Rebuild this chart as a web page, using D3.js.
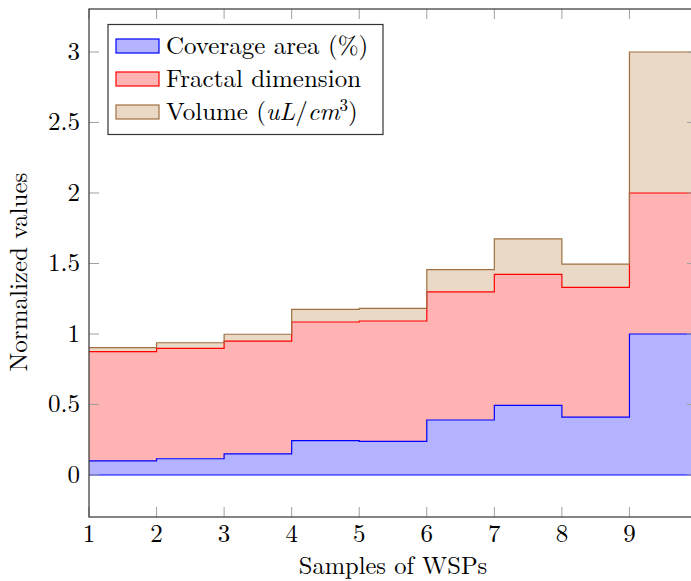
<!DOCTYPE html>
<html><head><meta charset="utf-8">
<script src="https://cdn.jsdelivr.net/npm/d3@7"></script>
<style>body{margin:0;background:#fff;} svg{display:block;}</style>
</head><body>
<svg id="c" width="691" height="581"></svg>
<script>
const samples  = [1, 2, 3, 4, 5, 6, 7, 8, 9, 10];
const coverage = [0.10, 0.115, 0.15, 0.243, 0.238, 0.39, 0.494, 0.41, 1.0, 1.0];
const fractal  = [0.775, 0.783, 0.80, 0.842, 0.854, 0.908, 0.929, 0.921, 1.0, 1.0];
const volume   = [0.028, 0.040, 0.048, 0.090, 0.090, 0.158, 0.251, 0.165, 1.0, 1.0];
const xTicks = [1, 2, 3, 4, 5, 6, 7, 8, 9, 10];
const yTicks = [0, 0.5, 1, 1.5, 2, 2.5, 3];
const seriesNames = ["Coverage area (%)", "Fractal dimension", "Volume"];

const FONT = '"Latin Modern Roman", "CMU Serif", "Liberation Serif", serif';
const svg = d3.select("#c");
const L = 89, R = 697, T = 9, B = 517;
const x = d3.scaleLinear().domain([1, 10]).range([L, R]);
const y = d3.scaleLinear().domain([-0.298, 3.305]).range([B, T]);

const rows = samples.map((s, i) => ({x: s, a: coverage[i], b: fractal[i], c: volume[i]}));
const stack = d3.stack().keys(["a", "b", "c"])(rows);
const fills = ["#b3b3ff", "#ffb3b3", "#ead9c6"];
const strokes = ["#0000ff", "#ff0000", "#a07040"];

svg.append("defs").append("clipPath").attr("id", "clip")
  .append("rect").attr("x", L).attr("y", T).attr("width", R - L).attr("height", B - T);
const g = svg.append("g").attr("clip-path", "url(#clip)");

const area = d3.area().curve(d3.curveStepAfter)
  .x(d => x(d.data.x)).y0(d => y(d[0])).y1(d => y(d[1]));
const line = d3.line().curve(d3.curveStepAfter)
  .x(d => x(d.data.x)).y(d => y(d[1]));

stack.forEach((s, i) => {
  g.append("path").attr("d", area(s)).attr("fill", fills[i]).attr("stroke", "none");
});
g.append("path").attr("d", d3.line().x(d => x(d.x)).y(() => y(0))(rows))
  .attr("fill", "none").attr("stroke", strokes[0]).attr("stroke-width", 1.2);
stack.forEach((s, i) => {
  g.append("path").attr("d", line(s)).attr("fill", "none")
   .attr("stroke", strokes[i]).attr("stroke-width", 1.2);
});

// ticks
const tickCol = "#a0a0a0", tl = 10;
const ticks = svg.append("g").attr("stroke", tickCol).attr("stroke-width", 1);
xTicks.forEach(t => {
  ticks.append("line").attr("x1", x(t)).attr("x2", x(t)).attr("y1", B).attr("y2", B - tl);
  ticks.append("line").attr("x1", x(t)).attr("x2", x(t)).attr("y1", T).attr("y2", T + tl);
});
yTicks.forEach(t => {
  ticks.append("line").attr("x1", L).attr("x2", L + tl).attr("y1", y(t)).attr("y2", y(t));
  ticks.append("line").attr("x1", R).attr("x2", R - tl).attr("y1", y(t)).attr("y2", y(t));
});
svg.append("rect").attr("x", L).attr("y", T).attr("width", R - L).attr("height", B - T)
  .attr("fill", "none").attr("stroke", "#333").attr("stroke-width", 1.2);

const fs = 25;
const txt = (sel) => sel.style("font-family", FONT).attr("font-size", fs).attr("fill", "#000");
xTicks.forEach(t => {
  if (x(t) > 691) return;
  svg.append("text").attr("x", x(t)).attr("y", 542).attr("text-anchor", "middle")
    .call(txt).text(d3.format("")(t));
});
yTicks.forEach(t => {
  svg.append("text").attr("x", 80).attr("y", y(t) + 8).attr("text-anchor", "end")
    .call(txt).text(d3.format("")(t));
});

svg.append("text").attr("x", 393).attr("y", 574).attr("text-anchor", "middle")
  .call(txt).attr("font-size", 24.5).text("Samples of WSPs");
svg.append("text").attr("transform", "translate(27,272) rotate(-90)").attr("text-anchor", "middle")
  .call(txt).text("Normalized values");

// legend
const lg = svg.append("g");
lg.append("rect").attr("x", 108).attr("y", 24.5).attr("width", 275).attr("height", 110)
  .attr("fill", "#fff").attr("stroke", "#333").attr("stroke-width", 1.2);
[0, 1, 2].forEach(i => {
  const cy = 46 + i * 33;
  lg.append("rect").attr("x", 116).attr("y", cy - 7).attr("width", 43).attr("height", 14)
    .attr("fill", fills[i]).attr("stroke", strokes[i]).attr("stroke-width", 1.2);
  const t = lg.append("text").attr("x", 166).attr("y", cy + 8).call(txt);
  if (i < 2) t.text(seriesNames[i]);
  else {
    t.append("tspan").text(seriesNames[i] + " (");
    t.append("tspan").attr("font-style", "italic").text("uL");
    t.append("tspan").text("/");
    t.append("tspan").attr("font-style", "italic").text("cm");
    t.append("tspan").attr("font-size", 17).attr("dy", -9).text("3");
    t.append("tspan").attr("dy", 9).text(")");
  }
});
</script>
</body></html>
